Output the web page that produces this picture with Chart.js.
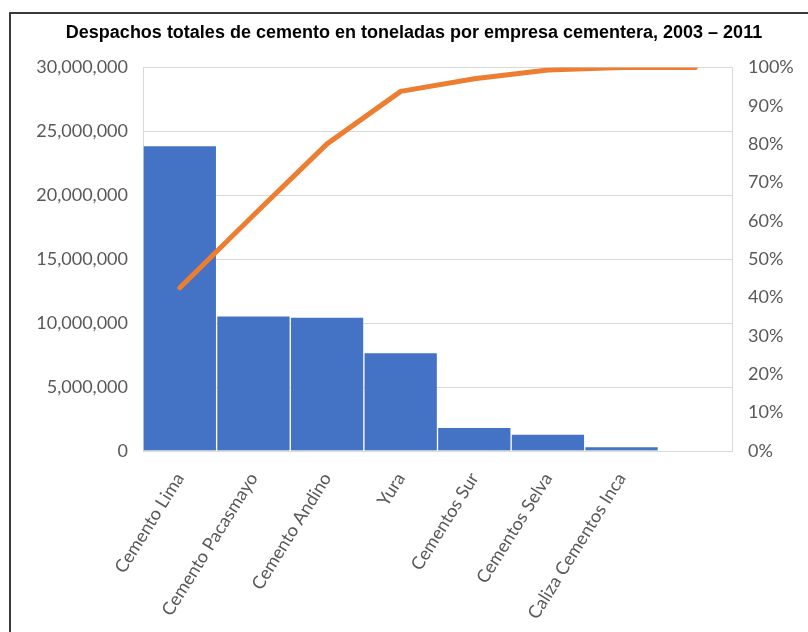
<!DOCTYPE html>
<html>
<head>
<meta charset="utf-8">
<script src="https://cdn.jsdelivr.net/npm/chart.js@4.4.1/dist/chart.umd.min.js"></script>
<style>
    html, body { margin: 0; padding: 0; width: 808px; height: 632px; overflow: hidden; background: #fff; }
    #frame { position: absolute; left: 9px; top: 12px; width: 900px; height: 700px; border-left: 2px solid #3a3a3a; border-top: 2px solid #3a3a3a; }
    #wrap { position: absolute; left: 11px; top: 14px; width: 806px; height: 660px; }
</style>
</head>
<body>
<div id="frame"></div>
<div id="wrap"><canvas id="paretoChart" width="806" height="660"></canvas></div>
<script>
// empresas (la ultima categoria del pareto queda vacia)
const empresas = ['Cemento Lima', 'Cemento Pacasmayo', 'Cemento Andino', 'Yura', 'Cementos Sur', 'Cementos Selva', 'Caliza Cementos Inca', ''];
// despachos en toneladas, 2003 - 2011
const despachos = [23900000, 10570000, 10470000, 7710000, 1850000, 1330000, 340000, null];
// porcentaje acumulado
const acumulado = [0.426, 0.615, 0.801, 0.938, 0.971, 0.994, 1.0, 1.0];

const tituloGrafico = 'Despachos totales de cemento en toneladas por empresa cementera, 2003 \u2013 2011';

const gris = '#595959';
const fuenteTicks = { family: 'Lato', size: 18 };

function createParetoChart() {
    const ctx = document.getElementById('paretoChart').getContext('2d');

    new Chart(ctx, {
        data: {
            labels: empresas,
            datasets: [{
                type: 'line',
                label: 'Acumulado',
                data: acumulado,
                yAxisID: 'yPct',
                borderColor: '#ED7D31',
                borderWidth: 5,
                borderCapStyle: 'round',
                borderJoinStyle: 'round',
                pointRadius: 0,
                tension: 0,
                order: 0
            }, {
                type: 'bar',
                label: 'Despachos',
                data: despachos,
                yAxisID: 'y',
                backgroundColor: '#4472C4',
                borderColor: 'rgba(255,255,255,0.35)',
                borderWidth: 1,
                barPercentage: 1,
                categoryPercentage: 1,
                order: 1
            }]
        },
        options: {
            responsive: false,
            animation: false,
            layout: { padding: 0 },
            plugins: {
                legend: { display: false },
                tooltip: { enabled: false },
                title: {
                    display: true,
                    text: tituloGrafico,
                    color: '#000',
                    font: { family: 'Liberation Sans', size: 18, weight: 'bold' },
                    padding: { top: 8, bottom: 24 }
                }
            },
            scales: {
                x: {
                    offset: true,
                    grid: { display: false },
                    border: { display: true, color: '#d9d9d9' },
                    ticks: {
                        color: gris,
                        font: { family: 'Lato', size: 18 },
                        maxRotation: 58,
                        minRotation: 58,
                        autoSkip: false,
                        padding: 10
                    },
                    afterFit: (scale) => { scale.height = 223; }
                },
                y: {
                    position: 'left',
                    min: 0,
                    max: 30000000,
                    grid: { color: '#d9d9d9', drawTicks: false },
                    border: { display: true, color: '#d9d9d9' },
                    ticks: {
                        stepSize: 5000000,
                        color: gris,
                        font: fuenteTicks,
                        padding: 15,
                        callback: (v) => v.toLocaleString('en-US')
                    },
                    afterFit: (scale) => { scale.width = 132; }
                },
                yPct: {
                    position: 'right',
                    min: 0,
                    max: 1,
                    grid: { display: false, drawTicks: false },
                    border: { display: true, color: '#d9d9d9' },
                    ticks: {
                        stepSize: 0.1,
                        color: gris,
                        font: fuenteTicks,
                        padding: 16,
                        callback: (v) => Math.round(v * 100) + '%'
                    },
                    afterFit: (scale) => { scale.width = 85; }
                }
            }
        }
    });
}

createParetoChart();
</script>
</body>
</html>
